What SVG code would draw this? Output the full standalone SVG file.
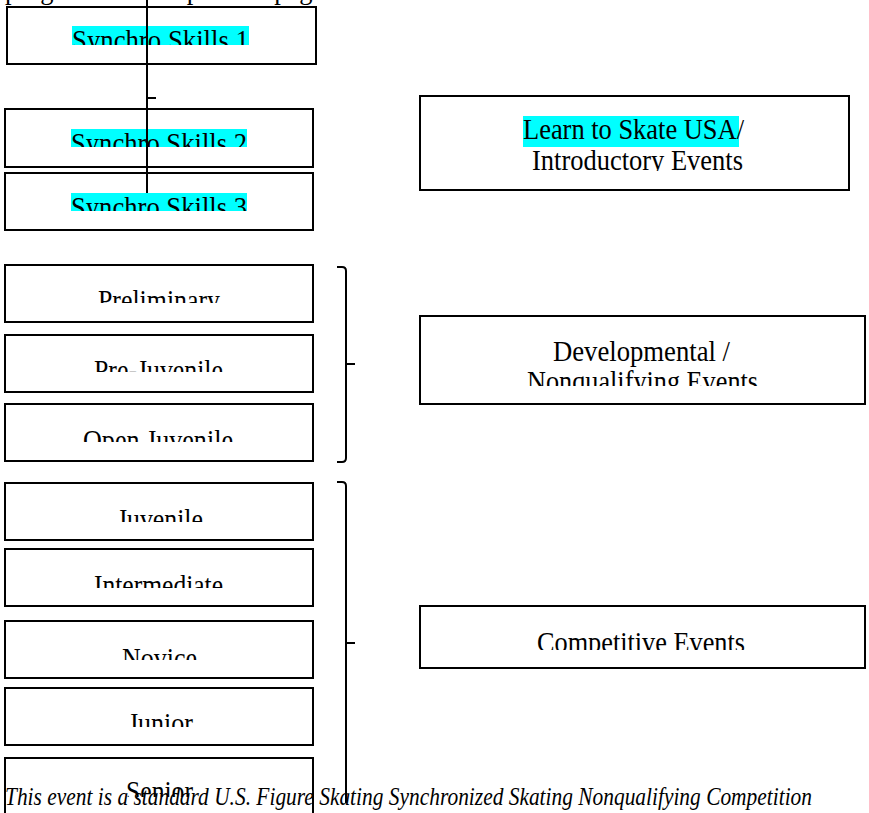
<svg xmlns="http://www.w3.org/2000/svg" width="869" height="813" viewBox="0 0 869 813">
<style>
.box{fill:#fff;stroke:#000;stroke-width:2}
.t{font-family:"Liberation Serif","Times New Roman",serif;font-size:26.5px;fill:#000}
.it{font-family:"Liberation Serif","Times New Roman",serif;font-size:21.5px;font-style:italic;fill:#000}
.hl{fill:#00ffff}
.conn{fill:none;stroke:#000;stroke-width:2}
</style>
<defs>
<clipPath id="cTop"><rect x="0" y="0" width="869" height="6"/></clipPath>
<clipPath id="c1"><rect x="0" y="7" width="330" height="38"/></clipPath>
<clipPath id="c2"><rect x="0" y="109" width="330" height="38"/></clipPath>
<clipPath id="c3"><rect x="0" y="173" width="330" height="38"/></clipPath>
<clipPath id="c4"><rect x="0" y="265" width="330" height="38"/></clipPath>
<clipPath id="c5"><rect x="0" y="335" width="330" height="37"/></clipPath>
<clipPath id="c6"><rect x="0" y="404" width="330" height="38"/></clipPath>
<clipPath id="c7"><rect x="0" y="483" width="330" height="39"/></clipPath>
<clipPath id="c8"><rect x="0" y="549" width="330" height="39"/></clipPath>
<clipPath id="c9"><rect x="0" y="621" width="330" height="39"/></clipPath>
<clipPath id="c10"><rect x="0" y="688" width="330" height="39"/></clipPath>
<clipPath id="c11"><rect x="0" y="758" width="330" height="39"/></clipPath>
<clipPath id="cL"><rect x="420" y="96" width="429" height="75"/></clipPath>
<clipPath id="cD"><rect x="420" y="316" width="445" height="70"/></clipPath>
<clipPath id="cC"><rect x="420" y="606" width="445" height="44"/></clipPath>
</defs>

<g id="header-text" clip-path="url(#cTop)">
<text class="t" x="5" y="-1">program at the top of the page.</text>
</g>

<g id="synchro-skills-1">
<rect class="box" x="7" y="7" width="309" height="57"/>
<g clip-path="url(#c1)">
<rect class="hl" x="72" y="26" width="177" height="30"/>
<text class="t" transform="translate(72,50) scale(1,1.12)" textLength="177" lengthAdjust="spacingAndGlyphs">Synchro Skills 1</text>
</g>
</g>

<g id="synchro-skills-2">
<rect class="box" x="5" y="109" width="308" height="58"/>
<g clip-path="url(#c2)">
<rect class="hl" x="71" y="129" width="176" height="30"/>
<text class="t" transform="translate(71,153) scale(1,1.12)" textLength="176" lengthAdjust="spacingAndGlyphs">Synchro Skills 2</text>
</g>
</g>

<g id="synchro-skills-3">
<rect class="box" x="5" y="173" width="308" height="57"/>
<g clip-path="url(#c3)">
<rect class="hl" x="71" y="193" width="176" height="30"/>
<text class="t" transform="translate(71,217) scale(1,1.12)" textLength="176" lengthAdjust="spacingAndGlyphs">Synchro Skills 3</text>
</g>
</g>

<g id="preliminary">
<rect class="box" x="5" y="265" width="308" height="57"/>
<g clip-path="url(#c4)">
<text class="t" transform="translate(98,310) scale(1,1.12)" textLength="122" lengthAdjust="spacingAndGlyphs">Preliminary</text>
</g>
</g>

<g id="pre-juvenile">
<rect class="box" x="5" y="335" width="308" height="57"/>
<g clip-path="url(#c5)">
<text class="t" transform="translate(94,380) scale(1,1.12)" textLength="129" lengthAdjust="spacingAndGlyphs">Pre-Juvenile</text>
</g>
</g>

<g id="open-juvenile">
<rect class="box" x="5" y="404" width="308" height="57"/>
<g clip-path="url(#c6)">
<text class="t" transform="translate(83,450) scale(1,1.12)" textLength="150" lengthAdjust="spacingAndGlyphs">Open Juvenile</text>
</g>
</g>

<g id="juvenile">
<rect class="box" x="5" y="483" width="308" height="57"/>
<g clip-path="url(#c7)">
<text class="t" transform="translate(117,529) scale(1,1.12)" textLength="86" lengthAdjust="spacingAndGlyphs">Juvenile</text>
</g>
</g>

<g id="intermediate">
<rect class="box" x="5" y="549" width="308" height="57"/>
<g clip-path="url(#c8)">
<text class="t" transform="translate(94,595) scale(1,1.12)" textLength="129" lengthAdjust="spacingAndGlyphs">Intermediate</text>
</g>
</g>

<g id="novice">
<rect class="box" x="5" y="621" width="308" height="57"/>
<g clip-path="url(#c9)">
<text class="t" transform="translate(122,668) scale(1,1.12)" textLength="75" lengthAdjust="spacingAndGlyphs">Novice</text>
</g>
</g>

<g id="junior">
<rect class="box" x="5" y="688" width="308" height="57"/>
<g clip-path="url(#c10)">
<text class="t" transform="translate(128,733) scale(1,1.12)" textLength="65" lengthAdjust="spacingAndGlyphs">Junior</text>
</g>
</g>

<g id="senior">
<rect class="box" x="5" y="758" width="308" height="70"/>
<g clip-path="url(#c11)">
<text class="t" transform="translate(126,801) scale(1,1.12)" textLength="67" lengthAdjust="spacingAndGlyphs">Senior</text>
</g>
</g>

<g id="learn-to-skate">
<rect class="box" x="420" y="96" width="429" height="94"/>
<g clip-path="url(#cL)">
<rect class="hl" x="523" y="116" width="216" height="31"/>
<text class="t" transform="translate(523,139) scale(1,1.12)" textLength="221" lengthAdjust="spacingAndGlyphs">Learn to Skate USA/</text>
<text class="t" transform="translate(532,170) scale(1,1.12)" textLength="211" lengthAdjust="spacingAndGlyphs">Introductory Events</text>
</g>
</g>

<g id="developmental">
<rect class="box" x="420" y="316" width="445" height="88"/>
<g clip-path="url(#cD)">
<text class="t" transform="translate(553,361) scale(1,1.12)" textLength="177" lengthAdjust="spacingAndGlyphs">Developmental /</text>
<text class="t" transform="translate(527,391) scale(1,1.12)" textLength="231" lengthAdjust="spacingAndGlyphs">Nonqualifying Events</text>
</g>
</g>

<g id="competitive">
<rect class="box" x="420" y="606" width="445" height="62"/>
<g clip-path="url(#cC)">
<text class="t" transform="translate(537,652) scale(1,1.12)" textLength="208" lengthAdjust="spacingAndGlyphs">Competitive Events</text>
</g>
</g>

<g id="connectors">
<path class="conn" d="M147,0 V193"/>
<path class="conn" d="M147,98 H156"/>
<path class="conn" d="M337,267 H342 Q346,267 346,271 V458 Q346,462 342,462 H337"/>
<path class="conn" d="M346,364 H355"/>
<path class="conn" d="M337,482 H342 Q346,482 346,486 V803"/>
<path class="conn" d="M346,643 H355"/>
</g>

<g id="footnote">
<text class="it" transform="translate(5,805) scale(1,1.2)" textLength="807" lengthAdjust="spacingAndGlyphs">This event is a standard U.S. Figure Skating Synchronized Skating Nonqualifying Competition</text>
</g>
</svg>
